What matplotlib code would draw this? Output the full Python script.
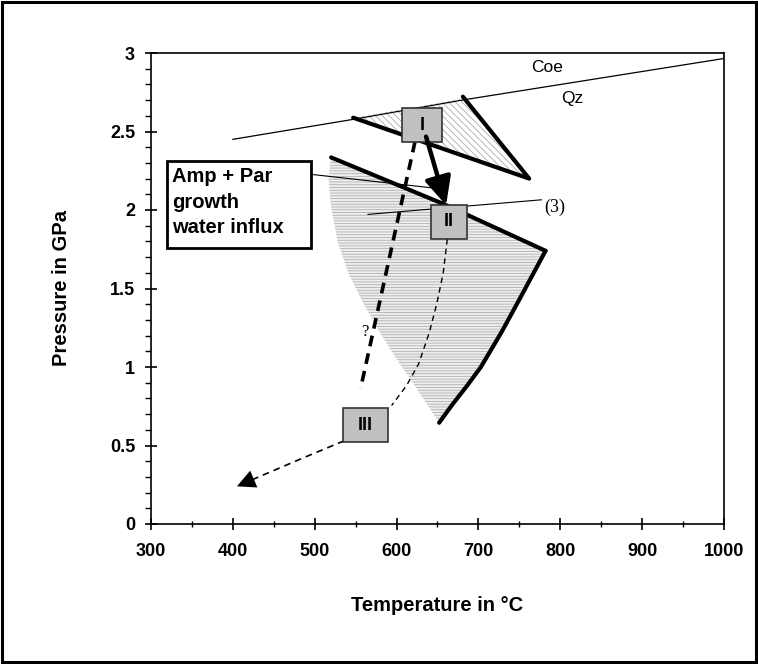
import numpy as np
import matplotlib
matplotlib.use("Agg")
import matplotlib.pyplot as plt
from matplotlib.patches import Polygon, Rectangle
from matplotlib.ticker import MultipleLocator

plt.rcParams['font.family'] = ['Liberation Sans', 'DejaVu Sans']
plt.rcParams['hatch.linewidth'] = 0.6

# Coe / Qz reaction line
coe_T = [400, 550, 680, 1000]
coe_P = [2.45, 2.58, 2.70, 2.965]

# upper (peak) triangle
tri_T = [547, 681, 762]
tri_P = [2.588, 2.712, 2.20]

# lower wedge: thick upper edge, thick right edge, open left edge (bottom -> top)
wedge_top_T = [520, 658, 782]
wedge_top_P = [2.335, 2.037, 1.74]
wedge_right_T = [782, 750, 728, 703, 686, 668, 652]
wedge_right_P = [1.74, 1.43, 1.22, 1.00, 0.88, 0.76, 0.645]
wedge_left_T = [652, 635, 616, 600, 582, 560, 541, 528, 520, 517, 520]
wedge_left_P = [0.645, 0.78, 0.93, 1.05, 1.20, 1.40, 1.60, 1.80, 2.02, 2.20, 2.335]

# stage boxes
stage_labels = ['I', 'II', 'III']
stage_T = [631, 664, 562]
stage_P = [2.54, 1.926, 0.628]
stage_w = [49, 45, 54]
stage_h = 0.217

# P-T paths
arrow_T = [636, 660.5]
arrow_P = [2.467, 2.03]
alt_path_T = [622.5, 556]
alt_path_P = [2.435, 0.862]
path_23_T = [662, 657, 649, 640, 627, 612, 594]
path_23_P = [1.815, 1.60, 1.40, 1.22, 1.02, 0.88, 0.755]
retro_T = [536, 490, 445, 405]
retro_P = [0.53, 0.43, 0.33, 0.24]

# leader lines
leader_box_T = [494, 645]
leader_box_P = [2.228, 2.14]
leader_3_T = [565, 777]
leader_3_P = [1.972, 2.065]

fig = plt.figure(figsize=(7.58, 6.64), dpi=100)
ax = fig.add_axes([151 / 758, 1 - 524 / 664, (724 - 151) / 758, (524 - 53) / 664])

# hatched fields
wedge_xy = list(zip(wedge_top_T + wedge_right_T[1:] + wedge_left_T[1:-1],
                    wedge_top_P + wedge_right_P[1:] + wedge_left_P[1:-1]))
ax.add_patch(Polygon(wedge_xy, closed=True, facecolor='#eeeeee', edgecolor='#b0b0b0',
                     hatch='------', lw=0, zorder=1))
ax.add_patch(Polygon(list(zip(tri_T, tri_P)), closed=True, facecolor='white',
                     edgecolor='#aaaaaa', hatch='\\\\\\\\\\', lw=0, zorder=1))

# reaction line and field boundaries
ax.plot(coe_T, coe_P, color='black', lw=0.9, zorder=2)
ax.plot([tri_T[0], tri_T[2], tri_T[1]], [tri_P[0], tri_P[2], tri_P[1] + 0.01],
        color='black', lw=3, solid_capstyle='round', zorder=3)
ax.plot(wedge_top_T, wedge_top_P, color='black', lw=3, solid_capstyle='round', zorder=3)
ax.plot(wedge_right_T, wedge_right_P, color='black', lw=3, solid_capstyle='round', zorder=3)

# leaders
ax.plot(leader_box_T, leader_box_P, color='black', lw=0.8, zorder=4)
ax.plot(leader_3_T, leader_3_P, color='black', lw=0.8, zorder=4)

# paths
ax.plot(alt_path_T, alt_path_P, color='black', lw=2.6, dashes=(3, 2), zorder=4)
ax.plot(path_23_T, path_23_P, color='black', lw=1.0, dashes=(4, 3), zorder=4)
ax.plot(retro_T, retro_P, color='black', lw=1.2, dashes=(4, 3), zorder=4)
ax.annotate('', xy=(retro_T[-1], retro_P[-1]), xytext=(retro_T[-2], retro_P[-2]),
            arrowprops=dict(arrowstyle='-|>,head_length=0.6,head_width=0.3', color='black',
                            lw=0, mutation_scale=22, shrinkA=18, shrinkB=0), zorder=5)
ax.annotate('', xy=(arrow_T[1], arrow_P[1]), xytext=(arrow_T[0], arrow_P[0]),
            arrowprops=dict(arrowstyle='-|>,head_length=0.85,head_width=0.4', color='black',
                            lw=3.2, mutation_scale=20, shrinkA=0, shrinkB=0), zorder=7)

# stage boxes
for lab, t, p, w in zip(stage_labels, stage_T, stage_P, stage_w):
    ax.add_patch(Rectangle((t - w / 2, p - stage_h / 2), w, stage_h, facecolor='#c0c0c0',
                           edgecolor='#333333', lw=1.2, zorder=6))
    ax.text(t, p, lab, ha='center', va='center', fontsize=13, fontweight='bold', zorder=8)

# annotation box
ax.add_patch(Rectangle((320, 1.755), 175, 0.555, facecolor='white', edgecolor='black',
                       lw=2, zorder=6))
ax.text(326, 2.05, 'Amp + Par\ngrowth\nwater influx', ha='left', va='center',
        fontsize=14.5, fontweight='bold', linespacing=1.45, zorder=7)

ax.text(784, 2.91, 'Coe', ha='center', va='center', fontsize=12.5)
ax.text(815, 2.71, 'Qz', ha='center', va='center', fontsize=12.5)
ax.text(780, 2.02, '(3)', ha='left', va='center', fontsize=13, family='Liberation Serif')
ax.text(561, 1.225, '?', ha='center', va='center', fontsize=12, family='Liberation Serif')

ax.set_xlim(300, 1000)
ax.set_ylim(0, 3)
ax.xaxis.set_major_locator(MultipleLocator(100))
ax.xaxis.set_minor_locator(MultipleLocator(50))
ax.yaxis.set_major_locator(MultipleLocator(0.5))
ax.yaxis.set_minor_locator(MultipleLocator(0.1))
ax.set_yticks(np.arange(0, 3.01, 0.5))
ax.set_yticklabels(['0', '0.5', '1', '1.5', '2', '2.5', '3'])
ax.tick_params(which='major', direction='inout', length=9, width=1.2, labelsize=13)
ax.tick_params(axis='x', which='major', pad=9)
ax.tick_params(axis='y', which='major', pad=7)
ax.tick_params(axis='x', which='minor', direction='inout', length=5, width=1)
ax.tick_params(axis='y', which='minor', direction='out', length=4, width=1)
for lab in ax.get_xticklabels() + ax.get_yticklabels():
    lab.set_fontweight('bold')
for s in ax.spines.values():
    s.set_linewidth(1.2)

ax.set_xlabel('Temperature in °C', fontsize=14.5, fontweight='bold', labelpad=26)
ax.set_ylabel('Pressure in GPa', fontsize=14.5, fontweight='bold', labelpad=28)

fig.patches.append(Rectangle((0.003, 0.003), 0.994, 0.994, transform=fig.transFigure,
                             fill=False, lw=2.2, edgecolor='black'))

fig.savefig('out.png', dpi=100)
